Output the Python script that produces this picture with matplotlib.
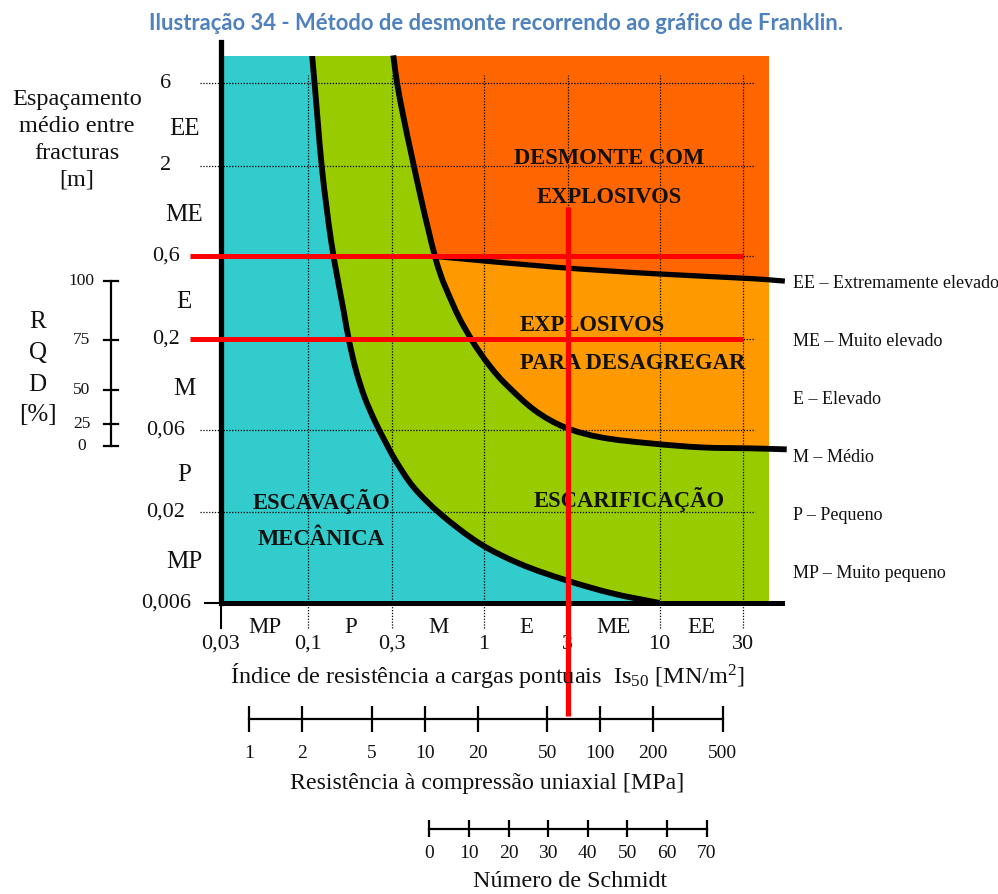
import numpy as np
import matplotlib
matplotlib.use("Agg")
import matplotlib.pyplot as plt
from matplotlib.path import Path
from matplotlib.patches import PathPatch

plt.rcParams['font.family'] = ['Liberation Serif', 'DejaVu Serif']
plt.rcParams['mathtext.fontset'] = 'custom'
plt.rcParams['mathtext.rm'] = 'Liberation Serif'
plt.rcParams['mathtext.default'] = 'regular'

# ---------------- data ----------------
title = "Ilustração 34 - Método de desmonte recorrendo ao gráfico de Franklin."

is50_ticks = [0.03, 0.1, 0.3, 1, 3, 10, 30]
is50_labels = ["0,03", "0,1", "0,3", "1", "3", "10", "30"]
spacing_ticks = [0.006, 0.02, 0.06, 0.2, 0.6, 2, 6]
spacing_labels = ["0,006", "0,02", "0,06", "0,2", "0,6", "2", "6"]
classes = ["MP", "P", "M", "E", "ME", "EE"]
class_names = ["EE – Extremamente elevado", "ME – Muito elevado", "E – Elevado",
               "M – Médio", "P – Pequeno", "MP – Muito pequeno"]

# boundary: escavação mecânica | escarificação
b1_x = [0.105, 0.1084, 0.1197, 0.1346, 0.1485, 0.1586, 0.1704, 0.1868, 0.2089, 0.2381,
        0.2716, 0.3134, 0.397, 0.562, 0.949, 1.603, 2.956, 5.444, 10.0]
b1_y = [8.67, 6.03, 1.906, 0.742, 0.4175, 0.2929, 0.1965, 0.132, 0.0925, 0.0679,
        0.0521, 0.0399, 0.028, 0.0197, 0.0132, 0.0101, 0.0081, 0.0068, 0.006]
# boundary: escarificação | explosivos
b2_x = [0.3046, 0.3197, 0.3481, 0.3817, 0.4408, 0.4831, 0.526, 0.5656, 0.6077, 0.7206,
        0.8545, 0.9305, 1.096, 1.317, 1.951, 2.891, 4.634, 8.923, 17.6, 34.0, 53.0]
b2_y = [8.67, 6.03, 3.82, 2.45, 1.26, 0.848, 0.60, 0.472, 0.392, 0.267,
        0.1965, 0.172, 0.137, 0.111, 0.0775, 0.0619, 0.0542, 0.050, 0.0474, 0.0468, 0.0462]
# boundary: explosivos para desagregar | desmonte com explosivos
b3_x = [0.526, 2.48, 9.20, 34.1, 51.7]
b3_y = [0.60, 0.521, 0.477, 0.446, 0.432]

# red reading lines
red_spacing = [0.6, 0.2]
red_is50 = 3.0

# RQD scale against spacing
rqd_values = [100, 75, 50, 25, 0]
rqd_spacing = [0.432, 0.198, 0.102, 0.065, 0.048]

ucs_ticks = [1, 2, 5, 10, 20, 50, 100, 200, 500]
schmidt_ticks = [0, 10, 20, 30, 40, 50, 60, 70]

# ---------------- style ----------------
CYAN, GREEN, ORANGE_D, ORANGE_L = "#33CCCC", "#99CC00", "#FF6600", "#FF9900"
RED = "#FF0000"
INK = "#111111"

W, H = 998, 894
fig = plt.figure(figsize=(W / 100, H / 100), dpi=100)
fig.patch.set_facecolor("white")


def fx(px):
    return px / W


def fy(py):
    return 1 - py / H


def smooth(xs, ys):
    """Bezier path through the read points (tangents in log space)."""
    P = np.column_stack([np.log10(xs), np.log10(ys)])
    n = len(P)
    d = np.linalg.norm(np.diff(P, axis=0), axis=1)
    T = np.zeros_like(P)
    for i in range(n):
        if i == 0:
            T[i] = (P[1] - P[0]) / d[0]
        elif i == n - 1:
            T[i] = (P[-1] - P[-2]) / d[-1]
        else:
            T[i] = (P[i + 1] - P[i - 1]) / (d[i - 1] + d[i])
    verts = [P[0]]
    codes = [Path.MOVETO]
    for i in range(n - 1):
        c1 = P[i] + T[i] * d[i] / 3
        c2 = P[i + 1] - T[i + 1] * d[i] / 3
        verts += [c1, c2, P[i + 1]]
        codes += [Path.CURVE4] * 3
    return list(10 ** np.array(verts)), codes


def region(parts, tail):
    verts, codes = [], []
    for k, (xs, ys) in enumerate(parts):
        v, c = smooth(xs, ys)
        if k > 0:
            v, c = v[1:], c[1:]
        verts += v
        codes += c
    for p in tail:
        verts.append(p)
        codes.append(Path.LINETO)
    verts.append(verts[0])
    codes.append(Path.CLOSEPOLY)
    return Path(np.array(verts), codes)


x_lo, x_hi = 0.0318, 42.0
y_lo, y_hi = 0.006, 8.6
ax = fig.add_axes([fx(221), fy(603), (769 - 221) / W, (603 - 56) / H])
ax.set_xscale("log")
ax.set_yscale("log")
ax.set_xlim(x_lo, x_hi)
ax.set_ylim(y_lo, y_hi)
ax.set_facecolor(CYAN)
for s in ax.spines.values():
    s.set_visible(False)
ax.set_xticks([])
ax.set_xticks([], minor=True)
ax.set_yticks([])
ax.set_yticks([], minor=True)

FAR_X, FAR_Y = 80.0, 30.0
j = b2_x.index(b3_x[0])
regions = [
    (GREEN, [(b1_x, b1_y)], [(FAR_X, y_lo), (FAR_X, FAR_Y), (b1_x[0], FAR_Y)]),
    (ORANGE_L, [(b2_x, b2_y)], [(FAR_X, b2_y[-1]), (FAR_X, FAR_Y), (b2_x[0], FAR_Y)]),
    (ORANGE_D, [(b2_x[:j + 1], b2_y[:j + 1]), (b3_x, b3_y)],
     [(FAR_X, b3_y[-1]), (FAR_X, FAR_Y), (b2_x[0], FAR_Y)]),
]
for col, parts, tail in regions:
    ax.add_patch(PathPatch(region(parts, tail), facecolor=col, lw=0, zorder=1,
                           transform=ax.transData))

# dotted grid
dots = (0, (1, 1.3))
for v in is50_ticks[1:]:
    ax.plot([v, v], [0.0043, 6.65], color="k", lw=0.9, ls=dots, clip_on=False, zorder=2)
for v in spacing_ticks[1:]:
    ax.plot([0.0242, 34.9], [v, v], color="k", lw=0.9, ls=dots, clip_on=False, zorder=2)

# boundaries
lw_b = 4.2
for xs, ys, w, clip in [(b1_x, b1_y, lw_b, True), (b2_x, b2_y, lw_b, False),
                        (b3_x, b3_y, lw_b * 0.9, False)]:
    v, c = smooth(xs, ys)
    pp = PathPatch(Path(np.array(v), c), fill=False, edgecolor="k", lw=w, zorder=3,
                   transform=ax.transData, capstyle="butt")
    ax.add_patch(pp)
    pp.set_clip_on(clip)

# axes lines
ax.plot([x_lo, 49.7], [y_lo, y_lo], color="k", lw=3.6, clip_on=False, zorder=6,
        solid_capstyle="projecting")
ax.plot([x_lo, x_lo], [y_lo, 10.3], color="k", lw=3.8, clip_on=False, zorder=6,
        solid_capstyle="projecting")
ax.plot([0.0258, x_lo], [y_lo, y_lo], color="k", lw=1.5, clip_on=False, zorder=6)
ax.plot([x_lo, x_lo], [y_lo, 0.0043], color="k", lw=1.5, clip_on=False, zorder=6)

# tick labels and classes
ytr = ax.get_yaxis_transform()
xtr = ax.get_xaxis_transform()
for v, lab in zip(spacing_ticks, spacing_labels):
    ax.text(-0.1004, v, lab, transform=ytr, ha="center", va="center", fontsize=16,
            color=INK, clip_on=False)
for i, lab in enumerate(classes):
    ym = np.sqrt(spacing_ticks[i] * spacing_ticks[i + 1])
    ax.annotate(lab, (-0.0675, ym), xycoords=ytr, xytext=(0, -3), textcoords="offset points",
                ha="center", va="center", fontsize=18, color=INK)
for v, lab in zip(is50_ticks, is50_labels):
    ax.text(max(v, x_lo), -0.0759, lab, transform=xtr, ha="center", va="center",
            fontsize=16, color=INK, clip_on=False)
for i, lab in enumerate(classes):
    xm = np.sqrt(max(is50_ticks[i], x_lo) * is50_ticks[i + 1])
    ax.text(xm, -0.0448, lab, transform=xtr, ha="center", va="center", fontsize=16.5,
            color=INK, clip_on=False)

# region labels
bold = dict(fontsize=16.3, fontweight="bold", color=INK, transform=ax.transAxes, zorder=5)
ax.text(0.708, 0.8135, "DESMONTE COM", ha="center", va="center", **bold)
ax.text(0.708, 0.7422, "EXPLOSIVOS", ha="center", va="center", **bold)
ax.text(0.5456, 0.5082, "EXPLOSIVOS", ha="left", va="center", **bold)
ax.text(0.5456, 0.4378, "PARA DESAGREGAR", ha="left", va="center", **bold)
ax.text(0.1836, 0.1852, "ESCAVAÇÃO", ha="center", va="center", **bold)
ax.text(0.1825, 0.1152, "MECÂNICA", ha="center", va="center", **bold)
ax.text(0.745, 0.1896, "ESCARIFICAÇÃO", ha="center", va="center", **bold)

# red reading lines
for v in red_spacing:
    ax.plot([0.0212, 29.8], [v, v], color=RED, lw=3.6, clip_on=False, zorder=10,
            solid_capstyle="butt")
ax.plot([red_is50, red_is50], [1.155, 0.001337], color=RED, lw=3.8, clip_on=False,
        zorder=10, solid_capstyle="butt")

# RQD scale
ax.plot([-0.2007, -0.2007], [rqd_spacing[0], rqd_spacing[-1]], transform=ytr, color="k",
        lw=1.6, clip_on=False)
for v, s in zip(rqd_values, rqd_spacing):
    ax.plot([-0.2135, -0.1874], [s, s], transform=ytr, color="k", lw=1.6, clip_on=False)
    ax.text(-0.2546, s, str(v), transform=ytr, ha="center", va="center", fontsize=12.5,
            color=INK, clip_on=False)

# axis titles
for txt, py in zip(["Espaçamento", "médio entre", "fracturas", "[m]"], [99.5, 126.5, 153.5, 180]):
    fig.text(fx(77), fy(py), txt, ha="center", va="center", fontsize=17.5, color=INK)
for txt, py in zip(["R", "Q", "D", "[%]"], [321.7, 353.3, 385, 415]):
    fig.text(fx(37.5), fy(py), txt, ha="center", va="center", fontsize=18, color=INK)
fig.text(fx(487), fy(676), r"Índice de resistência a cargas pontuais  Is$_{50}$ [MN/m$^{2}$]",
         ha="center", va="center", fontsize=17.5, color=INK)

for i, txt in enumerate(class_names):
    fig.text(fx(793), fy(283.3 + 58.0 * i), txt, ha="left", va="center", fontsize=13, color=INK)

fig.text(fx(496), fy(23), title, ha="center", va="center", fontsize=15.8, fontweight="bold",
         color="#4F81BD", family=["Lato", "DejaVu Sans"])

# UCS scale
ax_u = fig.add_axes([fx(249.3), fy(732.3), (722.7 - 249.3) / W, 26 / H])
ax_u.set_xscale("log")
ax_u.set_xlim(ucs_ticks[0], ucs_ticks[-1])
ax_u.set_ylim(-1, 1)
ax_u.axis("off")
ax_u.plot([ucs_ticks[0], ucs_ticks[-1]], [0, 0], color="k", lw=1.6, clip_on=False)
ax_u.vlines(ucs_ticks, -1, 1, color="k", lw=1.6, clip_on=False)
for v in ucs_ticks:
    ax_u.text(v, -0.808, str(v), transform=ax_u.get_xaxis_transform(), ha="center",
              va="center", fontsize=14, color=INK)
fig.text(fx(487), fy(783.3), "Resistência à compressão uniaxial [MPa]", ha="center",
         va="center", fontsize=17.2, color=INK)

# Schmidt scale
ax_s = fig.add_axes([fx(429.3), fy(837.3), 277.4 / W, 17.3 / H])
ax_s.set_xlim(schmidt_ticks[0], schmidt_ticks[-1])
ax_s.set_ylim(-1, 1)
ax_s.axis("off")
ax_s.plot([schmidt_ticks[0], schmidt_ticks[-1]], [0, 0], color="k", lw=1.6, clip_on=False)
ax_s.vlines(schmidt_ticks, -1, 1, color="k", lw=1.6, clip_on=False)
for v in schmidt_ticks:
    ax_s.text(v, -0.925, str(v), transform=ax_s.get_xaxis_transform(), ha="center",
              va="center", fontsize=14, color=INK)
fig.text(fx(570), fy(881.7), "Número de Schmidt", ha="center", va="center", fontsize=17.4,
         color=INK)

fig.savefig("out.png", dpi=100)
